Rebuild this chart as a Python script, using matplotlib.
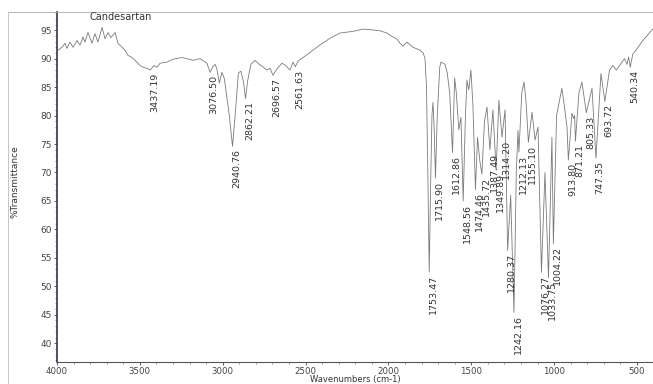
import matplotlib
matplotlib.use("Agg")
import matplotlib.pyplot as plt
from matplotlib.lines import Line2D
from matplotlib.ticker import MultipleLocator

# IR spectrum of candesartan, traced as (wavenumber, %T) vertices
wavenumbers = [
    3994, 3970, 3952, 3940, 3922, 3903, 3879, 3861, 3843, 3831, 3813, 3789,
    3771, 3753, 3728, 3710, 3692, 3674, 3650, 3632, 3608, 3590, 3572, 3547,
    3529, 3499, 3481, 3457, 3437.19, 3415, 3396, 3378, 3336, 3300, 3246, 3215,
    3179, 3137, 3095, 3076.50, 3060, 3046, 3035, 3020, 3005, 2990, 2960,
    2940.76, 2925, 2905, 2890, 2875, 2862.21, 2850, 2830, 2805, 2780, 2755,
    2733, 2715, 2696.57, 2670, 2642, 2620, 2594, 2575, 2561.63, 2545, 2500,
    2455, 2413, 2352, 2292, 2214, 2150, 2111, 2050, 2009, 1972, 1950, 1930,
    1912, 1888, 1852, 1809, 1790, 1779, 1770, 1762, 1753.47, 1745, 1737, 1731,
    1724, 1715.90, 1705, 1690, 1683, 1670, 1658, 1645, 1630, 1612.86, 1600,
    1590, 1575, 1562, 1548.56, 1535, 1526, 1515, 1502, 1490, 1474.46, 1462,
    1448, 1435.72, 1420, 1405, 1387.49, 1369, 1349.89, 1333, 1314.20, 1296,
    1280.37, 1262, 1242.16, 1228, 1218, 1212.13, 1195, 1181, 1168, 1155.10,
    1133, 1115, 1097, 1076.27, 1055, 1033.75, 1013, 1004.22, 985, 953, 935,
    922, 913.80, 892, 882, 876, 871.21, 850, 832, 805.33, 771, 747.35, 717,
    693.72, 665, 645, 625, 600, 575, 560, 550, 540.34, 525, 505, 470, 440, 405,
]
transmittance = [
    91.5, 92.0, 92.7, 91.8, 92.9, 92.0, 93.2, 92.4, 93.8, 92.9, 94.6, 92.7,
    94.4, 92.9, 95.5, 93.5, 94.6, 93.7, 94.6, 92.7, 92.0, 91.5, 90.6, 90.2,
    89.7, 88.8, 88.5, 88.3, 88.0, 88.8, 88.5, 89.2, 89.4, 89.9, 90.2, 90.0,
    89.7, 90.0, 89.2, 87.6, 88.6, 89.0, 88.2, 85.7, 87.6, 86.5, 80.0,
    74.6, 80.0, 87.5, 87.8, 86.0, 83.0, 86.0, 89.0, 89.7, 89.0, 88.5,
    88.0, 88.3, 87.1, 88.3, 89.2, 88.8, 88.0, 89.4, 88.6, 89.6, 90.5,
    91.5, 92.4, 93.6, 94.5, 94.8, 95.2, 95.1, 94.9, 94.5, 93.8, 93.5, 92.7,
    92.2, 92.9, 92.0, 91.5, 91.0, 90.0, 85.0, 70.0, 52.5, 68.0, 80.0, 82.3,
    78.0, 69.0, 80.0, 88.5, 89.4, 89.2, 89.0, 87.5, 84.0, 73.5, 86.6,
    84.0, 77.5, 79.7, 65.0, 80.0, 86.2, 84.5, 88.0, 82.0, 67.0, 76.2,
    72.0, 69.7, 79.0, 81.5, 74.0, 81.0, 70.4, 82.7, 76.2, 81.0,
    56.3, 66.0, 45.4, 70.0, 77.4, 73.6, 84.0, 85.9, 82.0, 75.3,
    80.6, 75.7, 78.0, 52.5, 70.0, 51.5, 76.2, 57.5, 80.0, 84.8, 81.0,
    78.0, 72.2, 80.4, 79.5, 80.0, 75.5, 84.0, 85.9, 80.5, 84.8, 72.5, 87.4,
    82.5, 88.0, 88.8, 88.0, 89.0, 90.0, 89.0, 90.3, 88.5, 90.8, 91.5, 93.0, 94.0, 95.2,
]

# labelled band positions
peaks = [
    3437.19, 3076.50, 2940.76, 2862.21, 2696.57, 2561.63, 1753.47, 1715.90,
    1612.86, 1548.56, 1474.46, 1435.72, 1387.49, 1349.89, 1314.20, 1280.37,
    1242.16, 1212.13, 1155.10, 1076.27, 1033.75, 1004.22, 913.80, 871.21,
    805.33, 747.35, 693.72, 540.34,
]

fig = plt.figure(figsize=(6.53, 3.84), dpi=100)
ax = fig.add_axes([57 / 653, 1 - 362 / 384, 1 - 57 / 653, 350 / 384])

ax.plot(wavenumbers, transmittance, color="#7a7a7a", lw=0.6)

for p in peaks:
    t = transmittance[wavenumbers.index(p)]
    ax.annotate(f"{p:.2f}", xy=(p, t), xytext=(3, -2), textcoords="offset points",
                rotation=90, ha="center", va="top", fontsize=6.8, color="#333333")

ax.set_xlim(4000, 403)
ax.set_ylim(36.7, 98.2)
ax.xaxis.set_major_locator(MultipleLocator(500))
ax.xaxis.set_minor_locator(MultipleLocator(100))
ax.yaxis.set_minor_locator(MultipleLocator(1))
ax.set_yticks(range(40, 96, 5))
ax.tick_params(which="major", direction="out", length=2.5, width=0.6,
               labelsize=6.5, colors="#444444", pad=1.5)
ax.tick_params(axis="x", which="major", labelsize=6.2, pad=0.8)
ax.tick_params(which="minor", direction="out", length=1.3, width=0.5, colors="#777777")

ax.spines["right"].set_visible(False)
ax.spines["left"].set_color("#33335e")
ax.spines["left"].set_linewidth(1.2)
ax.spines["bottom"].set_color("#555555")
ax.spines["bottom"].set_linewidth(0.8)
ax.spines["top"].set_color("#aaaaaa")
ax.spines["top"].set_linewidth(0.6)

# outer frame
fig.add_artist(Line2D([8 / 653, 57 / 653], [1 - 12 / 384] * 2, color="#aaaaaa", lw=0.6))
fig.add_artist(Line2D([8 / 653] * 2, [0, 1 - 12 / 384], color="#bbbbbb", lw=0.6))

fig.text(121 / 653, 1 - 17 / 384, "Candesartan", fontsize=7, ha="center", va="center",
         color="#333333")
fig.text(15 / 653, 1 - 182 / 384, "%Transmittance", fontsize=6.5, rotation=90,
         ha="center", va="center", color="#333333")
fig.text(355 / 653, 1 - 383.8 / 384, "Wavenumbers (cm-1)", fontsize=6, ha="center",
         va="bottom", color="#333333")

fig.savefig("out.png", dpi=100)
